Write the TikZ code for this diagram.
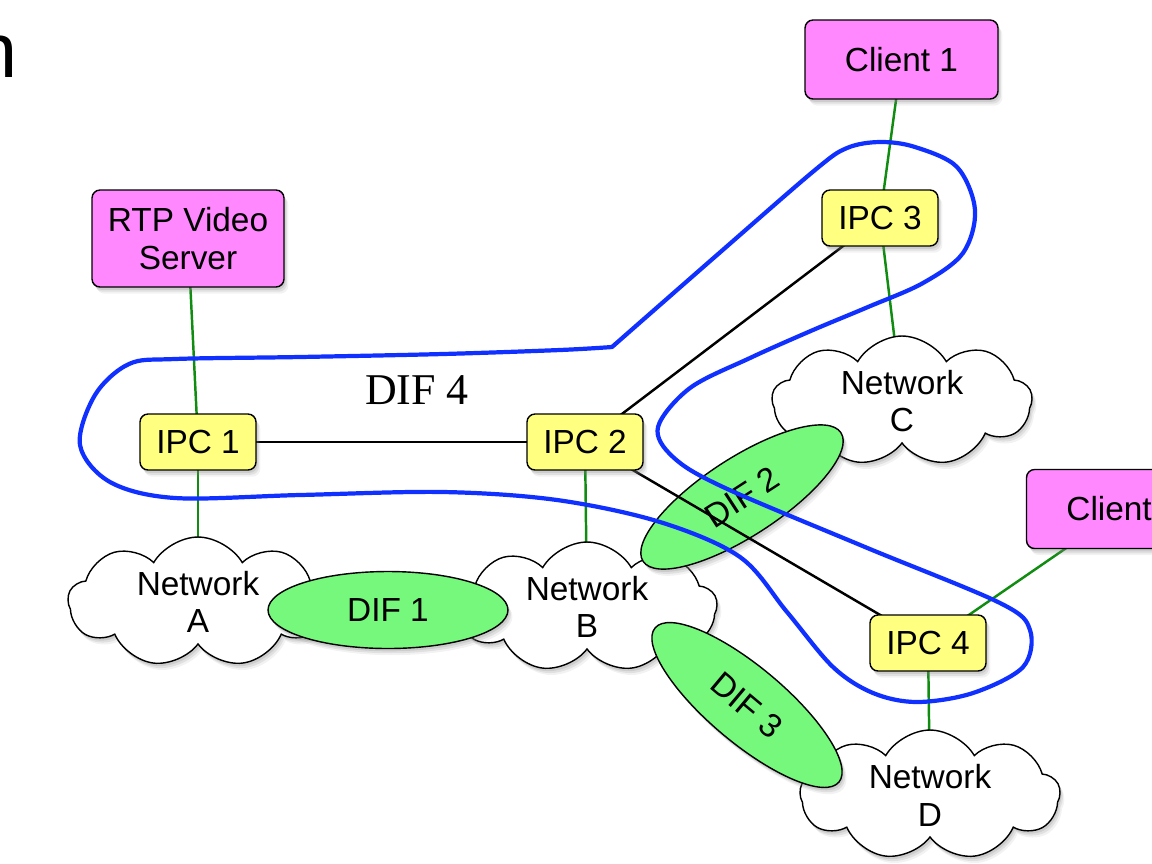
\documentclass[tikz,border=0pt]{standalone}
\usepackage{fontspec}
\setmainfont{Liberation Sans}
\newfontfamily\difserif{Liberation Serif}
\usetikzlibrary{shapes.geometric,shapes.symbols,shadows}
\pgfdeclarelayer{wires}
\pgfdeclarelayer{clouds}
\pgfdeclarelayer{links}
\pgfsetlayers{wires,clouds,links,main}
\definecolor{appmagenta}{RGB}{255,136,255}
\definecolor{ipcyellow}{RGB}{255,255,128}
\definecolor{difgreen}{RGB}{118,248,124}
\definecolor{linkgreen}{RGB}{16,140,16}
\definecolor{difblue}{RGB}{16,48,255}
\begin{document}
\begin{tikzpicture}[x=0.02cm,y=-0.02cm,
  every node/.style={font=\fontsize{19pt}{21.5pt}\selectfont, align=center},
  softshadow/.style={
    drop shadow={shadow xshift=0.9pt,shadow yshift=-1.6pt,opacity=0.2},
    drop shadow={shadow xshift=1.7pt,shadow yshift=-2.7pt,opacity=0.16},
    drop shadow={shadow xshift=2.5pt,shadow yshift=-3.8pt,opacity=0.1}},
  app/.style={draw, line width=0.8pt, fill=appmagenta, rounded corners=0.16cm,
    minimum width=3.86cm, minimum height=1.58cm, softshadow},
  ipc/.style={draw, line width=0.8pt, fill=ipcyellow, rounded corners=0.16cm,
    minimum width=2.32cm, minimum height=1.12cm, softshadow},
  net/.style={draw, line width=0.8pt, fill=white, cloud, cloud puffs=9, cloud puff arc=120,
    cloud ignores aspect, minimum width=5.2cm, minimum height=2.6cm, inner sep=0pt, softshadow},
  dif/.style={draw, line width=0.8pt, fill=difgreen, ellipse, inner sep=0pt, softshadow},
  wire/.style={linkgreen, line width=1.4pt},
  link/.style={black, line width=1.4pt},
]
\useasboundingbox (0,0) rectangle (1152,863);

% heading text running off the left edge
\node[anchor=base west, inner sep=0pt, font=\fontsize{44pt}{50pt}\selectfont] (headn) at (-26,77) {n};

% networks and the lower DIFs
\begin{pgfonlayer}{clouds}
\node[net] (neta) at (198,602) {Network\\A};
\node[net] (netb) at (587,607) {Network\\B};
\node[net] (netc) at (902,401) {Network\\C};
\node[net] (netd) at (930,795) {Network\\D};
\node[dif, minimum width=4.8cm, minimum height=1.54cm] (dif1) at (388,610) {DIF 1};
\node[dif, minimum width=4.72cm, minimum height=1.56cm, rotate=33] (dif2) at (742,497) {DIF 2};
\node[dif, minimum width=4.8cm, minimum height=1.52cm, rotate=-40] (dif3) at (747,705) {DIF 3};
\end{pgfonlayer}

% applications and IPC processes
\node[app, minimum width=3.84cm, minimum height=1.94cm] (rtp) at (188,238.5) {RTP Video\\Server};
\node[app] (client1) at (901.5,59.5) {Client 1};
\node[app] (client2) at (1123,509) {Client 2};
\node[ipc] (ipc1) at (198,442) {IPC 1};
\node[ipc] (ipc2) at (585,442) {IPC 2};
\node[ipc] (ipc3) at (880,218) {IPC 3};
\node[ipc] (ipc4) at (928,643) {IPC 4};

% attachments of IPC processes to their networks
\begin{pgfonlayer}{wires}
\draw[wire] (ipc1.center) -- (neta.center);
\draw[wire] (ipc2.center) -- (netb.center);
\draw[wire] (ipc3.center) -- (netc.center);
\draw[wire] (ipc4.center) -- (netd.center);
\end{pgfonlayer}

% application bindings and DIF 4 adjacencies
\begin{pgfonlayer}{links}
\draw[wire] (rtp.center) -- (ipc1.center);
\draw[wire] (client1.center) -- (ipc3.center);
\draw[wire] (client2.center) -- (ipc4.center);
\draw[link] (ipc1.center) -- (ipc2.center);
\draw[link] (ipc2.center) -- (ipc3.center);
\draw[link] (ipc2.center) -- (ipc4.center);
\end{pgfonlayer}

% boundary of DIF 4
\draw[difblue, line width=2.4pt, line join=round, line cap=round]
  plot[smooth, tension=0.55] coordinates {
    (612,347) (717,255) (815,170) (847,148) (880,142) (915,147) (957,167)
    (975,210) (963,253) (923,283) (868,307) (813,330) (750,358) (690,388)
    (658,427) (673,457) (723,487) (865,547) (1000,603) (1030,630) (1023,667)
    (973,693) (917,702) (873,693) (833,667) (787,612) (740,557) (660,522)
    (557,500) (443,492) (300,495) (175,498) (110,482) (80,445) (95,395)
    (129,364) (175,359) (300,357) (443,354) (560,350) (612,347)};
\node[font=\difserif\fontsize{25pt}{30pt}\selectfont] (dif4) at (417,390) {DIF 4};
\end{tikzpicture}
\end{document}
